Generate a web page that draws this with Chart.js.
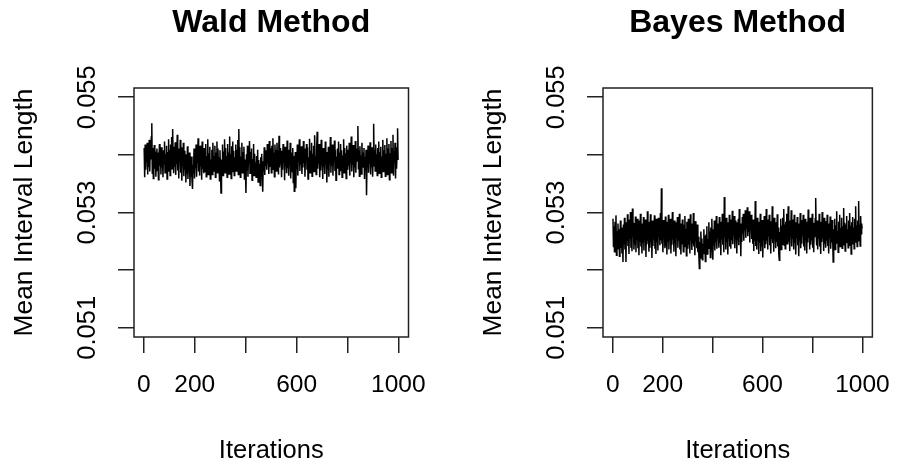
<!DOCTYPE html>
<html><head><meta charset="utf-8">
<script src="https://cdn.jsdelivr.net/npm/chart.js@4.4.1/dist/chart.umd.min.js"></script>
<style>
html,body{margin:0;padding:0;background:#fff;overflow:hidden;width:909px;height:466px;position:relative;}
#c1{position:absolute;left:0;top:0;}
#c2{position:absolute;left:469px;top:0;}
</style></head><body>
<canvas id="c1" width="469" height="466"></canvas>
<canvas id="c2" width="440" height="466"></canvas>
<script>
const xTickValues = [0, 200, 400, 600, 800, 1000];
const xTickLabels = ['0', '200', '', '600', '', '1000'];
const yTickValues = [0.051, 0.052, 0.053, 0.054, 0.055];
const yTickLabels = ['0.051', '', '0.053', '', '0.055'];
const panelTitles = ['Wald Method', 'Bayes Method'];
const xAxisTitle = 'Iterations';
const yAxisTitle = 'Mean Interval Length';

// Mean interval length, one value per odd iteration (1, 3, 5, ... 999)
const waldValues = [
0.05412,0.05361,0.05418,0.05374,0.05403,0.05388,0.05421,0.05366,0.05409,0.05379,
0.05426,0.05371,0.05415,0.05392,0.05431,0.05455,0.05368,0.05412,0.05359,0.05398,
0.05417,0.05376,0.05406,0.05362,0.05395,0.05411,0.05373,0.05404,0.05357,0.05389,
0.05419,0.05381,0.05402,0.05366,0.05413,0.05378,0.05396,0.05361,0.05408,0.05384,
0.05423,0.05369,0.05401,0.05387,0.05416,0.05358,0.05405,0.05379,0.05427,0.05372,
0.05409,0.05364,0.05418,0.05383,0.05431,0.05376,0.05445,0.05391,0.05368,0.05414,
0.05379,0.05422,0.05365,0.05407,0.05384,0.05435,0.05373,0.05411,0.05359,0.05403,
0.05388,0.05426,0.05369,0.05413,0.05355,0.05398,0.05381,0.05421,0.05363,0.05407,
0.05374,0.05401,0.05352,0.05392,0.05367,0.05415,0.05358,0.05386,0.05371,0.05404,
0.05346,0.05389,0.05362,0.05397,0.05355,0.05341,0.05383,0.05368,0.05411,0.05359,
0.05394,0.05377,0.05418,0.05362,0.05401,0.05386,0.05429,0.05371,0.05408,0.05364,
0.05416,0.05381,0.05399,0.05357,0.05423,0.05376,0.05405,0.05368,0.05412,0.05387,
0.05371,0.05419,0.05362,0.05398,0.05384,0.05427,0.05366,0.05403,0.05379,0.05414,
0.05358,0.05392,0.05375,0.05409,0.05366,0.05421,0.05383,0.05398,0.05372,0.05416,
0.05361,0.05404,0.05387,0.05423,0.05369,0.05411,0.05378,0.05396,0.05355,0.05408,
0.05373,0.05334,0.05392,0.05381,0.05418,0.05364,0.05406,0.05385,0.05427,0.05369,
0.05412,0.05376,0.05398,0.05361,0.05419,0.05383,0.05404,0.05367,0.05432,0.05378,
0.05401,0.05359,0.05415,0.05386,0.05423,0.05371,0.05407,0.05364,0.05396,0.05382,
0.05418,0.05372,0.05409,0.05388,0.05426,0.05366,0.05445,0.05379,0.05413,0.05361,
0.05397,0.05384,0.05421,0.05369,0.05405,0.05376,0.05414,0.05358,0.05392,0.05381,
0.05334,0.05401,0.05373,0.05416,0.05362,0.05398,0.05387,0.05424,0.05368,0.05405,
0.05379,0.05411,0.05356,0.05393,0.05382,0.05419,0.05364,0.05402,0.05375,0.05387,
0.05361,0.05398,0.05372,0.05409,0.05353,0.05391,0.05368,0.05384,0.05347,0.05396,
0.05376,0.05402,0.05363,0.05336,0.05389,0.05371,0.05413,0.05365,0.05398,0.05381,
0.05408,0.05374,0.05419,0.05386,0.05401,0.05367,0.05424,0.05379,0.05412,0.05391,
0.05369,0.05416,0.05383,0.05429,0.05375,0.05404,0.05362,0.05418,0.05387,0.05409,
0.05372,0.05421,0.05389,0.05406,0.05366,0.05433,0.05378,0.05412,0.05384,0.05399,
0.05361,0.05407,0.05374,0.05419,0.05388,0.05402,0.05356,0.05414,0.05381,0.05397,
0.05368,0.05425,0.05377,0.05409,0.05364,0.05392,0.05383,0.05421,0.05359,0.05404,
0.05386,0.05371,0.05412,0.05352,0.05398,0.05337,0.05381,0.05405,0.05342,0.05393,
0.05376,0.05418,0.05364,0.05402,0.05389,0.05427,0.05372,0.05408,0.05383,0.05415,
0.05367,0.05399,0.05378,0.05424,0.05386,0.05411,0.05362,0.05405,0.05391,0.05419,
0.05374,0.05413,0.05358,0.05396,0.05382,0.05428,0.05369,0.05407,0.05377,0.05421,
0.05363,0.05402,0.05388,0.05416,0.05371,0.05434,0.05379,0.05398,0.05366,0.05411,
0.05440,0.05376,0.05404,0.05385,0.05419,0.05361,0.05408,0.05373,0.05426,0.05382,
0.05396,0.05358,0.05412,0.05379,0.05401,0.05367,0.05423,0.05384,0.05405,0.05352,
0.05391,0.05376,0.05414,0.05362,0.05398,0.05387,0.05431,0.05369,0.05406,0.05381,
0.05418,0.05364,0.05402,0.05389,0.05425,0.05372,0.05409,0.05356,0.05397,0.05383,
0.05411,0.05377,0.05423,0.05366,0.05404,0.05391,0.05419,0.05373,0.05408,0.05361,
0.05399,0.05384,0.05427,0.05369,0.05412,0.05378,0.05403,0.05359,0.05416,0.05387,
0.05374,0.05409,0.05381,0.05421,0.05364,0.05398,0.05386,0.05432,0.05371,0.05406,
0.05383,0.05417,0.05361,0.05402,0.05378,0.05424,0.05369,0.05411,0.05388,0.05396,
0.05450,0.05376,0.05408,0.05363,0.05415,0.05382,0.05399,0.05367,0.05421,0.05379,
0.05404,0.05386,0.05412,0.05358,0.05396,0.05374,0.05409,0.05330,0.05392,0.05381,
0.05416,0.05369,0.05403,0.05385,0.05422,0.05366,0.05407,0.05378,0.05413,0.05362,
0.05398,0.05454,0.05381,0.05409,0.05372,0.05418,0.05387,0.05401,0.05364,0.05412,
0.05379,0.05423,0.05368,0.05405,0.05386,0.05414,0.05361,0.05397,0.05382,0.05426,
0.05371,0.05408,0.05389,0.05417,0.05363,0.05402,0.05378,0.05429,0.05366,0.05411,
0.05384,0.05419,0.05357,0.05403,0.05392,0.05424,0.05369,0.05412,0.05381,0.05435,
0.05364,0.05407,0.05388,0.05421,0.05359,0.05413,0.05376,0.05402,0.05446,0.05391
];
const bayesValues = [
0.05289,0.05241,0.05276,0.05232,0.05284,0.05249,0.05295,0.05226,0.05268,0.05243,
0.05281,0.05237,0.05271,0.05224,0.05259,0.05286,0.05238,0.05274,0.05229,0.05262,
0.05214,0.05279,0.05245,0.05291,0.05236,0.05268,0.05214,0.05283,0.05251,0.05297,
0.05242,0.05276,0.05228,0.05288,0.05254,0.05301,0.05239,0.05271,0.05233,0.05307,
0.05258,0.05282,0.05236,0.05269,0.05244,0.05293,0.05231,0.05277,0.05252,0.05289,
0.05238,0.05274,0.05226,0.05286,0.05249,0.05298,0.05241,0.05265,0.05229,0.05281,
0.05247,0.05292,0.05234,0.05271,0.05256,0.05288,0.05223,0.05276,0.05245,0.05302,
0.05251,0.05268,0.05232,0.05284,0.05239,0.05297,0.05248,0.05273,0.05221,0.05286,
0.05242,0.05279,0.05253,0.05295,0.05237,0.05266,0.05228,0.05289,0.05249,0.05274,
0.05234,0.05291,0.05257,0.05281,0.05243,0.05299,0.05252,0.05342,0.05246,0.05278,
0.05231,0.05287,0.05254,0.05269,0.05238,0.05293,0.05241,0.05276,0.05227,0.05284,
0.05249,0.05296,0.05236,0.05272,0.05255,0.05289,0.05229,0.05267,0.05244,0.05301,
0.05253,0.05278,0.05232,0.05286,0.05247,0.05264,0.05224,0.05283,0.05256,0.05292,
0.05239,0.05274,0.05251,0.05298,0.05236,0.05281,0.05227,0.05269,0.05245,0.05288,
0.05256,0.05232,0.05279,0.05241,0.05294,0.05248,0.05271,0.05225,0.05284,0.05253,
0.05237,0.05289,0.05244,0.05276,0.05229,0.05297,0.05252,0.05268,0.05235,0.05281,
0.05246,0.05299,0.05241,0.05273,0.05226,0.05285,0.05254,0.05264,0.05238,0.05279,
0.05231,0.05258,0.05226,0.05203,0.05249,0.05221,0.05267,0.05234,0.05255,0.05218,
0.05246,0.05229,0.05271,0.05237,0.05259,0.05215,0.05262,0.05241,0.05276,0.05228,
0.05254,0.05238,0.05283,0.05246,0.05267,0.05222,0.05274,0.05251,0.05289,0.05236,
0.05218,0.05271,0.05243,0.05286,0.05234,0.05265,0.05249,0.05294,0.05237,0.05278,
0.05256,0.05281,0.05239,0.05292,0.05247,0.05271,0.05226,0.05284,0.05253,0.05298,
0.05244,0.05276,0.05231,0.05327,0.05258,0.05279,0.05236,0.05291,0.05249,0.05268,
0.05227,0.05283,0.05254,0.05296,0.05241,0.05273,0.05237,0.05288,0.05252,0.05303,
0.05245,0.05279,0.05261,0.05294,0.05238,0.05286,0.05256,0.05271,0.05229,0.05283,
0.05252,0.05289,0.05243,0.05306,0.05258,0.05277,0.05224,0.05281,0.05249,0.05292,
0.05263,0.05298,0.05251,0.05286,0.05269,0.05304,0.05256,0.05291,0.05272,0.05309,
0.05259,0.05294,0.05266,0.05302,0.05248,0.05289,0.05271,0.05296,0.05254,0.05283,
0.05246,0.05288,0.05233,0.05276,0.05251,0.05320,0.05242,0.05279,0.05236,0.05291,
0.05255,0.05271,0.05228,0.05284,0.05247,0.05298,0.05233,0.05266,0.05241,0.05287,
0.05222,0.05276,0.05252,0.05294,0.05238,0.05281,0.05245,0.05306,0.05251,0.05274,
0.05236,0.05288,0.05259,0.05296,0.05243,0.05271,0.05229,0.05285,0.05254,0.05311,
0.05247,0.05279,0.05232,0.05291,0.05256,0.05268,0.05238,0.05283,0.05249,0.05297,
0.05241,0.05274,0.05229,0.05217,0.05266,0.05252,0.05289,0.05236,0.05277,0.05245,
0.05291,0.05254,0.05306,0.05243,0.05279,0.05237,0.05284,0.05258,0.05298,0.05246,
0.05272,0.05311,0.05249,0.05286,0.05233,0.05277,0.05258,0.05304,0.05241,0.05288,
0.05254,0.05279,0.05236,0.05296,0.05248,0.05269,0.05227,0.05283,0.05256,0.05292,
0.05243,0.05281,0.05224,0.05274,0.05251,0.05299,0.05238,0.05267,0.05246,0.05287,
0.05259,0.05296,0.05241,0.05278,0.05234,0.05289,0.05253,0.05271,0.05229,0.05284,
0.05248,0.05305,0.05256,0.05277,0.05236,0.05291,0.05244,0.05268,0.05252,0.05298,
0.05239,0.05282,0.05231,0.05274,0.05257,0.05289,0.05325,0.05261,0.05243,0.05286,
0.05236,0.05279,0.05254,0.05298,0.05241,0.05272,0.05228,0.05284,0.05249,0.05301,
0.05255,0.05276,0.05233,0.05291,0.05246,0.05268,0.05239,0.05285,0.05251,0.05296,
0.05242,0.05274,0.05229,0.05281,0.05256,0.05293,0.05237,0.05269,0.05248,0.05287,
0.05253,0.05214,0.05271,0.05244,0.05289,0.05236,0.05278,0.05258,0.05302,0.05247,
0.05268,0.05231,0.05284,0.05249,0.05296,0.05241,0.05273,0.05256,0.05291,0.05238,
0.05276,0.05251,0.05308,0.05244,0.05282,0.05233,0.05279,0.05262,0.05294,0.05248,
0.05271,0.05239,0.05286,0.05255,0.05299,0.05243,0.05277,0.05228,0.05283,0.05258,
0.05292,0.05246,0.05274,0.05237,0.05289,0.05252,0.05311,0.05249,0.05278,0.05241,
0.05286,0.05257,0.05320,0.05251,0.05279,0.05242,0.05294,0.05263,0.05281,0.05272
];
const iterations = waldValues.map((_, i) => 1 + i * 2);

Chart.defaults.font.family = '"Liberation Sans", Arial, Helvetica, sans-serif';
Chart.defaults.color = '#000';

const boxPlugin = {
  id: 'rbox',
  afterDraw(chart) {
    const {ctx, chartArea: a} = chart;
    ctx.save();
    ctx.strokeStyle = '#222';
    ctx.lineWidth = 1.5;
    ctx.strokeRect(a.left, a.top, a.right - a.left, a.bottom - a.top);
    ctx.restore();
  }
};

function makePanel(id, title, values, padRight) {
  return new Chart(document.getElementById(id), {
    type: 'line',
    data: {
      datasets: [{
        data: values.map((v, i) => ({x: iterations[i], y: v})),
        borderColor: '#000', borderWidth: 1.5, pointRadius: 0, tension: 0, fill: false
      }]
    },
    options: {
      responsive: false, animation: false, devicePixelRatio: 1,
      layout: {padding: {left: 0, right: padRight, top: 0, bottom: 0}},
      plugins: {
        legend: {display: false}, tooltip: {enabled: false},
        title: {display: true, text: title, fullSize: false, color: '#000',
          font: {size: 32, weight: 'bold'}, padding: {top: 4, bottom: 45.6}}
      },
      scales: {
        x: {
          type: 'linear', min: -38.96, max: 1039.96,
          afterBuildTicks: s => { s.ticks = xTickValues.map(v => ({value: v})); },
          afterFit: s => { s.height = 129; },
          border: {display: false},
          grid: {drawOnChartArea: false, drawTicks: true, tickLength: 16, color: '#222', lineWidth: 1.5},
          ticks: {autoSkip: false, maxRotation: 0, minRotation: 0, padding: 18, color: '#000',
            font: {size: 24.5}, callback: v => xTickLabels[xTickValues.indexOf(v)]},
          title: {display: true, text: xAxisTitle, color: '#000', font: {size: 25.5}, padding: {top: 0, bottom: 0}}
        },
        y: {
          type: 'linear', min: 0.05084, max: 0.05516,
          afterBuildTicks: s => { s.ticks = yTickValues.map(v => ({value: v})); },
          afterFit: s => { s.width = 134; },
          border: {display: false},
          grid: {drawOnChartArea: false, drawTicks: true, tickLength: 16, color: '#222', lineWidth: 1.5},
          ticks: {autoSkip: false, minRotation: 90, maxRotation: 90, crossAlign: 'center', padding: -2,
            color: '#000', font: {size: 25.5},
            callback: v => { const k = yTickValues.findIndex(t => Math.abs(t - v) < 1e-9); return k < 0 ? '' : yTickLabels[k]; }},
          title: {display: true, text: yAxisTitle, color: '#000', font: {size: 26.4}, padding: {top: 9, bottom: 0}}
        }
      }
    },
    plugins: [boxPlugin]
  });
}

makePanel('c1', panelTitles[0], waldValues, 469 - 408.5);
makePanel('c2', panelTitles[1], bayesValues, 440 - 408.5);
</script>
</body></html>
